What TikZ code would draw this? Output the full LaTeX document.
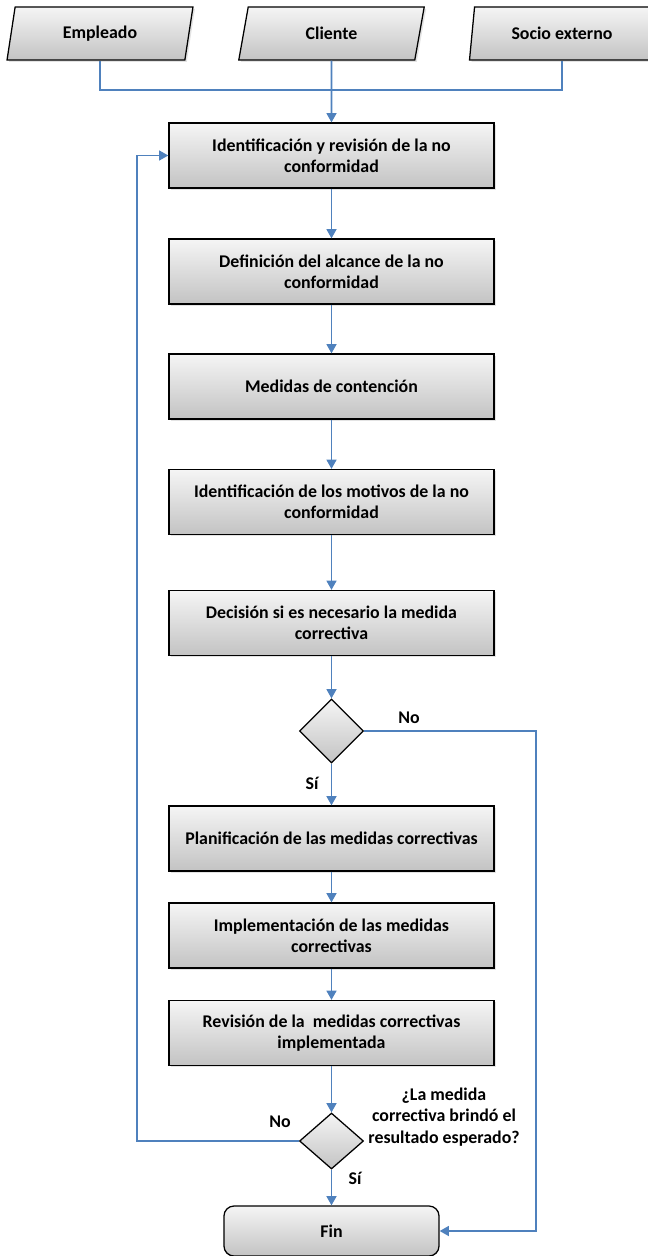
\documentclass[tikz,border=0pt]{standalone}
\usepackage{fontspec}
\setmainfont{Carlito}
\usepackage{tikz}
\usetikzlibrary{arrows.meta,shapes.geometric,shadows}
\definecolor{fc_blue}{RGB}{79, 129, 189}
\definecolor{fc_top}{RGB}{245, 245, 245}
\definecolor{fc_bottom}{RGB}{195, 195, 195}
\newcommand{\fcfont}{\bfseries\fontsize{12.7}{15.2}\selectfont}
\tikzstyle{proc}=[rectangle,draw=black,line width=0.9pt,top color=fc_top,bottom color=fc_bottom,
  drop shadow={shadow xshift=1.4pt,shadow yshift=-1.4pt,opacity=0.22},
  minimum width=8.125cm,minimum height=1.625cm,inner sep=2pt,align=center,font=\fcfont]
\tikzstyle{inp}=[trapezium,trapezium left angle=77,trapezium right angle=103,trapezium stretches=true,
  draw=black,line width=0.9pt,top color=fc_top,bottom color=fc_bottom,
  drop shadow={shadow xshift=1.4pt,shadow yshift=-1.4pt,opacity=0.22},
  minimum width=4.65cm,minimum height=1.325cm,inner sep=0pt,font=\fcfont]
\tikzstyle{dec}=[diamond,draw=black,line width=0.9pt,top color=fc_top,bottom color=fc_bottom,
  inner sep=0pt,minimum width=1.6cm,minimum height=1.6cm]
\tikzstyle{term}=[rectangle,rounded corners=0.25cm,draw=black,line width=0.9pt,top color=fc_top,
  bottom color=fc_bottom,minimum width=5.375cm,minimum height=1.25cm,font=\fcfont]
\tikzstyle{lbl}=[font=\fcfont,inner sep=1pt]
\tikzstyle{flow}=[draw=fc_blue,line width=1.2pt]
\tikzstyle{arr}=[flow,-{Triangle[length=6.5pt,width=7pt]}]

\begin{document}
\begin{tikzpicture}[x=0.025cm,y=-0.025cm]
            \useasboundingbox (0, 0) rectangle (648, 1256);
            \node [style=inp] (1) at (100, 33.5) {Empleado};
            \node [style=inp] (2) at (331.5, 33.5) {Cliente};
            \node [style=inp] (3) at (562, 33.5) {Socio externo};
            \coordinate (4) at (331.5, 90);
            \node [style=proc] (7) at (331.5, 155.5) {Identificación y revisión de la no\\conformidad};
            \node [style=proc] (8) at (331.5, 271.5) {Definición del alcance de la no\\conformidad};
            \node [style=proc] (9) at (331.5, 386.5) {Medidas de contención};
            \node [style=proc] (10) at (331.5, 502) {Identificación de los motivos de la no\\conformidad};
            \node [style=proc] (11) at (331.5, 623) {Decisión si es necesario la medida\\correctiva};
            \node [style=dec] (12) at (331.5, 731) {};
            \node [style=proc] (13) at (331.5, 838.5) {Planificación de las medidas correctivas};
            \node [style=proc] (14) at (331.5, 935.5) {Implementación de las medidas\\correctivas};
            \node [style=proc] (15) at (331.5, 1033) {Revisión de la\ \ medidas correctivas\\implementada};
            \node [style=dec, minimum height=1.4cm] (16) at (331.5, 1141) {};
            \node [style=term] (17) at (331.5, 1231) {Fin};
            \node [style=lbl] (18) at (409, 718) {No};
            \node [style=lbl] (19) at (312, 783) {Sí};
            \node [style=lbl] (20) at (280, 1122) {No};
            \node [style=lbl] (21) at (355, 1178) {Sí};
            \node [style=lbl, align=center] (22) at (444, 1117) {¿La medida\\correctiva brindó el\\resultado esperado?};
            \coordinate (23) at (536, 1231);
            \coordinate (24) at (137, 155.5);
            \draw [style=flow] (1) |- (4);
            \draw [style=flow] (3) |- (4);
            \draw [style=arr] (2) to (7);
            \draw [style=arr] (7) to (8);
            \draw [style=arr] (8) to (9);
            \draw [style=arr] (9) to (10);
            \draw [style=arr] (10) to (11);
            \draw [style=arr] (11) to (12);
            \draw [style=arr] (12) to (13);
            \draw [style=arr] (13) to (14);
            \draw [style=arr] (14) to (15);
            \draw [style=arr] (15) to (16);
            \draw [style=arr] (16) to (17);
            \draw [style=arr] (12) -| (23) -- (17);
            \draw [style=arr] (16) -| (24) -- (7);
    \end{tikzpicture}
\end{document}
